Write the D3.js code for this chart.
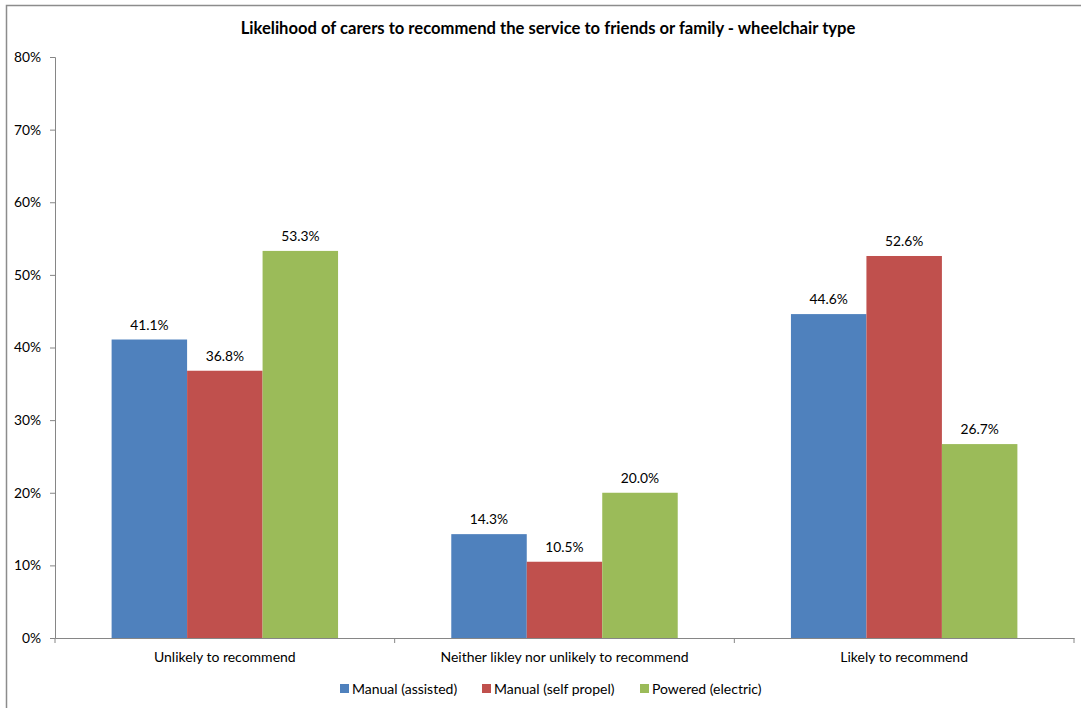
<!DOCTYPE html>
<html><head><meta charset="utf-8">
<script src="https://cdn.jsdelivr.net/npm/d3@7"></script>
<style>
html,body{margin:0;padding:0;background:#fff;}
svg text{font-family:Lato,"Open Sans",sans-serif;fill:#000;}
</style></head>
<body>
<svg id="chart" width="1081" height="708"></svg>
<script>
const title = "Likelihood of carers to recommend the service to friends or family - wheelchair type";
const categories = ["Unlikely to recommend", "Neither likley nor unlikely to recommend", "Likely to recommend"];
const seriesNames = ["Manual (assisted)", "Manual (self propel)", "Powered (electric)"];
const manualAssisted = [41.1, 14.3, 44.6];
const manualSelfPropel = [36.8, 10.5, 52.6];
const poweredElectric = [53.3, 20.0, 26.7];
const yTicks = [0, 10, 20, 30, 40, 50, 60, 70, 80];
const colors = ["#4F81BD", "#C0504D", "#9BBB59"];

const seriesValues = [manualAssisted, manualSelfPropel, poweredElectric];
const svg = d3.select("#chart");

// outer chart border
svg.append("rect").attr("x", 6.5).attr("y", 5.5).attr("width", 1200).attr("height", 800)
  .attr("fill", "#fff").attr("stroke", "#8c8c8c").attr("stroke-width", 1.5);

const pLeft = 55, pRight = 1074, pTop = 57, pBottom = 638;
const x = d3.scaleBand().domain(categories).range([pLeft, pRight]).paddingInner(0).paddingOuter(0);
const y = d3.scaleLinear().domain([0, 80]).range([pBottom, pTop]);
const inner = x.bandwidth() / 4.5;
const xs = d3.scaleBand().domain(seriesNames).range([inner * 0.75, x.bandwidth() - inner * 0.75]);

svg.append("text").attr("x", 548).attr("y", 34).attr("text-anchor", "middle")
  .attr("font-weight", "bold").attr("font-size", 16.6).text(title);

// bars
const groups = svg.append("g").selectAll("g").data(categories).join("g")
  .attr("transform", c => `translate(${x(c)},0)`);
seriesNames.forEach((s, si) => {
  groups.append("rect")
    .attr("x", (c, ci) => xs(s))
    .attr("width", xs.bandwidth())
    .attr("y", (c, ci) => y(seriesValues[si][ci]))
    .attr("height", (c, ci) => pBottom - y(seriesValues[si][ci]))
    .attr("fill", colors[si]);
  groups.append("text")
    .attr("x", (c, ci) => xs(s) + xs.bandwidth() / 2)
    .attr("y", (c, ci) => y(seriesValues[si][ci]) - 10)
    .attr("text-anchor", "middle").attr("font-size", 13.8)
    .text((c, ci) => seriesValues[si][ci].toFixed(1) + "%");
});

// y axis
const yAxis = d3.axisLeft(y).tickValues(yTicks).tickFormat(d => d + "%").tickSize(5).tickPadding(9);
const yg = svg.append("g").attr("transform", `translate(${pLeft},0)`).call(yAxis);
yg.select(".domain").attr("stroke", "#868686");
yg.selectAll(".tick line").attr("stroke", "#868686");
yg.selectAll(".tick text").attr("font-size", 13.8).attr("font-family", "Lato,sans-serif").attr("fill", "#000");

// x axis
const xAxis = d3.axisBottom(x).tickSize(0).tickPadding(14);
const xg = svg.append("g").attr("transform", `translate(0,${pBottom})`).call(xAxis);
xg.select(".domain").attr("stroke", "#868686");
xg.selectAll(".tick text").attr("font-size", 14).attr("font-family", "Lato,sans-serif").attr("fill", "#000");
const boundaries = categories.map(c => x(c)).concat([pRight]);
xg.selectAll(".bound").data(boundaries).join("line").attr("class", "bound")
  .attr("x1", d => d).attr("x2", d => d).attr("y1", 0).attr("y2", 5).attr("stroke", "#868686");

// legend
const legendX = [340, 482, 640];
const lg = svg.append("g").selectAll("g").data(seriesNames).join("g")
  .attr("transform", (d, i) => `translate(${legendX[i]},684)`);
lg.append("rect").attr("width", 9).attr("height", 9).attr("fill", (d, i) => colors[i]);
lg.append("text").attr("x", 12).attr("y", 9.5).attr("font-size", 14).text(d => d);
</script>
</body></html>
